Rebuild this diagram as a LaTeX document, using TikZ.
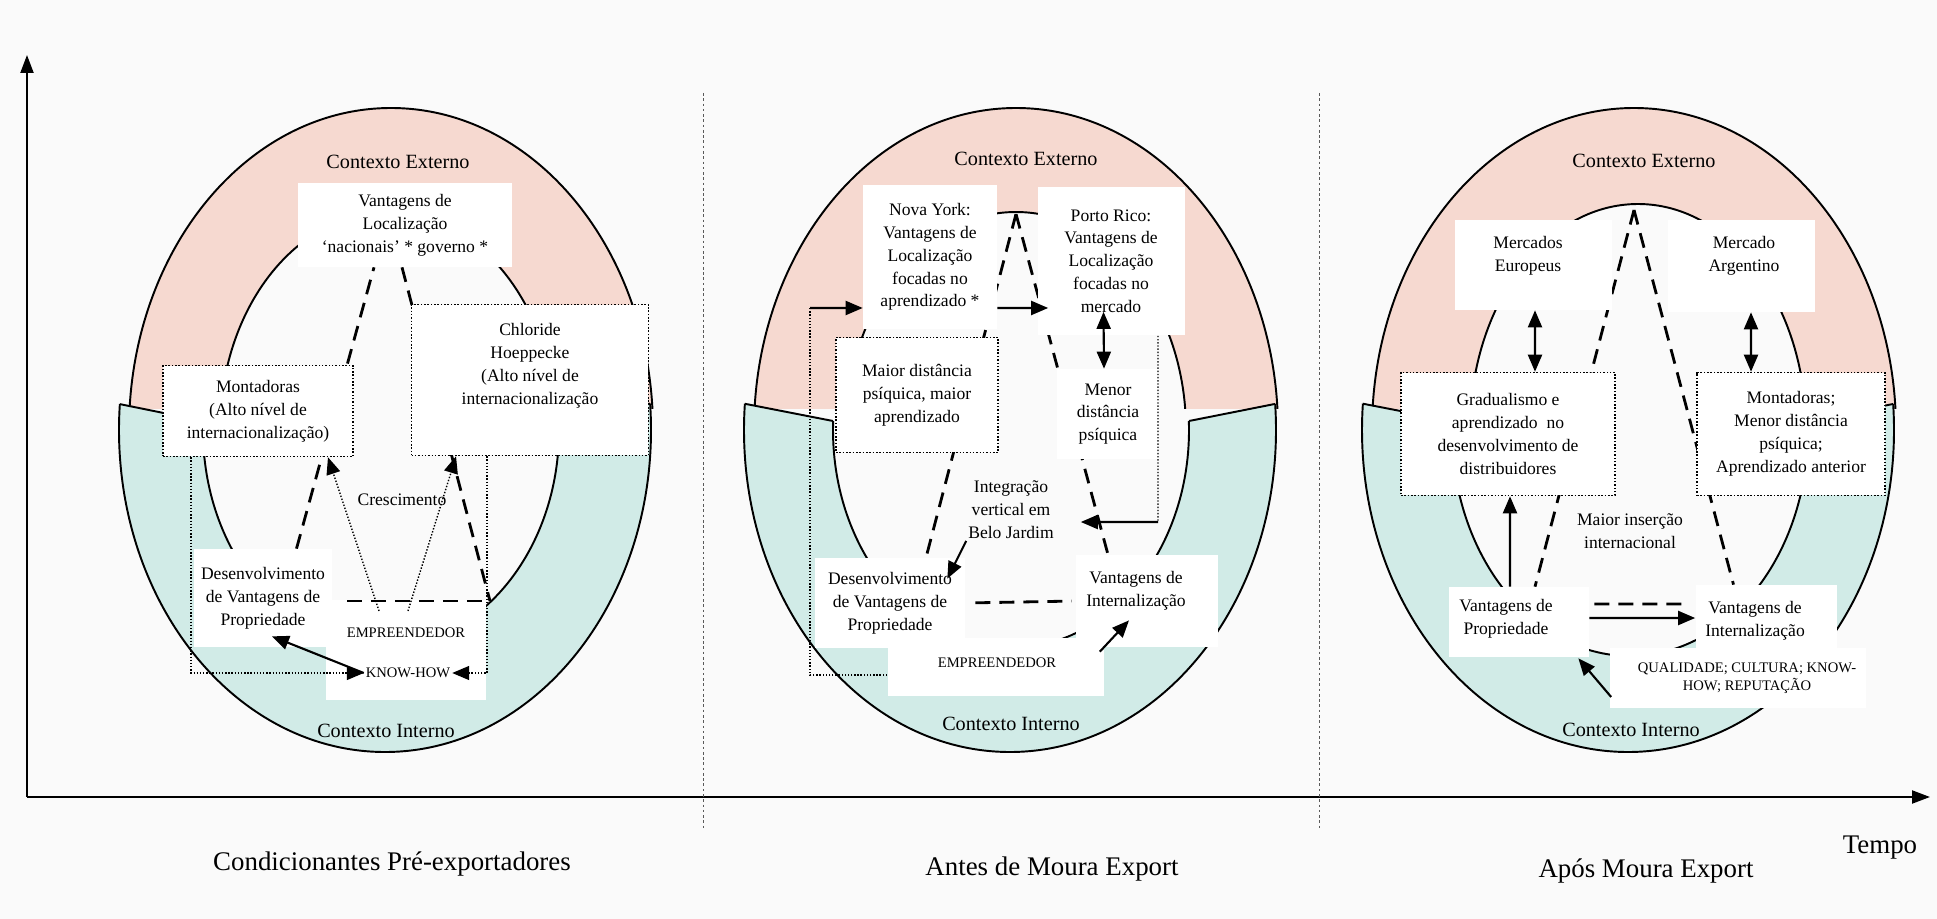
\documentclass[tikz,border=0pt]{standalone}
\usepackage{fontspec}
\setmainfont{Liberation Serif}
\usetikzlibrary{arrows.meta}

\definecolor{extpink}{RGB}{246,217,208}
\definecolor{intteal}{RGB}{209,235,231}
\definecolor{paper}{RGB}{250,250,250}

\pgfdeclarelayer{ringlayer}
\pgfdeclarelayer{linelayer}
\pgfsetlayers{ringlayer,linelayer,main}

\tikzset{
  wbox/.style={fill=white, inner sep=0pt, align=center, font=\fontsize{10}{13}\selectfont},
  dbox/.style={wbox, draw, densely dotted, line width=0.9pt},
  txt/.style={align=center, inner sep=1pt, font=\fontsize{10}{13}\selectfont},
  capstxt/.style={align=center, inner sep=1pt, font=\fontsize{8.3}{10.2}\selectfont},
  ctx/.style={inner sep=1pt, font=\fontsize{11.5}{14}\selectfont},
  phase/.style={inner sep=1pt, font=\fontsize{15.3}{18}\selectfont},
  ringline/.style={line width=1.1pt},
  dline/.style={line width=1.6pt, dash pattern=on 0.3cm off 0.18cm},
  dotl/.style={line width=0.8pt, densely dotted},
  headtip/.style={-{Triangle[length=0.34cm, width=0.28cm]}},
  arr/.style={headtip, line width=1.2pt},
  arr2/.style={{Triangle[length=0.34cm, width=0.28cm]}-{Triangle[length=0.34cm, width=0.28cm]}, line width=1.2pt},
  axisline/.style={-{Triangle[length=0.36cm, width=0.26cm]}, line width=1.2pt},
  sepline/.style={line width=0.5pt, gray!70!black, dash pattern=on 1.5pt off 1.5pt}
}

\begin{document}
\begin{tikzpicture}[x=0.02cm, y=-0.02cm]
  \useasboundingbox (0,0) rectangle (1937,919);

  % Rings: external context (upper half) and internal context (lower half)
  \begin{pgfonlayer}{ringlayer}
    \fill[paper] (0,0) rectangle (1937,919);
    \foreach \cx/\ix/\jx/\jrx/\iry in {385/381/388/168/218, 1010/1011/1016/170/218, 1628/1630/1638/168/226} {
      \begin{scope}
        \clip (\cx-310,0) rectangle (\cx+310,408);
        \fill[extpink, even odd rule] (\cx+6,430) ellipse [x radius=262, y radius=322]
          (\jx,430) ellipse [x radius=\jrx, y radius=\iry];
        \draw[ringline] (\cx+6,430) ellipse [x radius=262, y radius=322]
          (\jx,430) ellipse [x radius=\jrx, y radius=\iry];
      \end{scope}
      \begin{scope}
        \clip (\cx-310,395) -- (\ix-178,421) -- (\ix+178,421) -- (\cx+310,395)
          -- (\cx+310,800) -- (\cx-310,800) -- cycle;
        \fill[intteal, even odd rule] (\cx,430) ellipse [x radius=266, y radius=322]
          (\ix,430) ellipse [x radius=178, y radius=\iry];
        \draw[ringline] (\cx,430) ellipse [x radius=266, y radius=322]
          (\ix,430) ellipse [x radius=178, y radius=\iry];
      \end{scope}
      \begin{scope}
        \clip (\cx,430) ellipse [x radius=266, y radius=322];
        \draw[ringline] (\cx-310,395) -- (\ix-178,421) (\ix+178,421) -- (\cx+310,395);
      \end{scope}
    }
  \end{pgfonlayer}

  % Axes and period separators
  \coordinate (orig) at (27,797);
  \coordinate (ytip) at (27,55);
  \coordinate (xtip) at (1930,797);
  \draw[axisline] (orig) -- (ytip);
  \draw[axisline] (orig) -- (xtip);
  \draw[sepline] (703,93) -- (703,830);
  \draw[sepline] (1319,93) -- (1319,830);

  \node[phase] (ph1) at (392,864) {Condicionantes Pré-exportadores};
  \node[phase] (ph2) at (1052,869) {Antes de Moura Export};
  \node[phase] (ph3) at (1646,871) {Após Moura Export};
  \node[phase] (tempo) at (1880,848) {Tempo};

  % Panel 1: pre-export conditions
  \node[ctx] (p1ext) at (398,162) {Contexto Externo};
  \node[ctx] (p1int) at (386,731) {Contexto Interno};
  \node[wbox, minimum width=4.3cm, minimum height=1.68cm] (p1loc) at (405,225) {Vantagens de\\Localização\\`nacionais' * governo *};
  \node[dbox, minimum width=3.8cm, minimum height=1.82cm] (p1mont) at (258,411) {Montadoras\\(Alto nível de\\internacionalização)};
  \node[dbox, minimum width=4.74cm, minimum height=3.02cm] (p1chl) at (530,380) {};
  \node[txt] (p1chltxt) at (530,366) {Chloride\\Hoeppecke\\(Alto nível de\\internacionalização};
  \node[wbox, minimum width=2.78cm, minimum height=1.96cm] (p1des) at (263,598) {Desenvolvimento\\de Vantagens de\\Propriedade};
  \node[wbox, minimum width=3.22cm, minimum height=2.0cm] (p1empbox) at (406,650) {};
  \node[capstxt] (p1emp) at (406,633) {EMPREENDEDOR};
  \node[capstxt] (p1know) at (408,673) {KNOW-HOW};
  \node[txt] (p1cres) at (402,500) {Crescimento};
  \coordinate (p1dl) at (347,601);
  \coordinate (p1dr) at (490,601);

  \begin{pgfonlayer}{linelayer}
    \draw[dline] ([xshift=0.67cm]p1des.north) -- ([xshift=-0.62cm]p1loc.south);
    \draw[dline] ([xshift=-0.06cm]p1loc.south) -- (p1dr);
  \end{pgfonlayer}
  \draw[dline] (p1dl) -- (p1dr);
  \draw[dotl, headtip] ([xshift=-0.54cm, yshift=0.3cm]p1emp.north) -- ([xshift=1.4cm]p1mont.south);
  \draw[dotl, headtip] ([xshift=0.04cm, yshift=0.3cm]p1emp.north) -- ([xshift=-1.48cm]p1chl.south);
  \draw[dotl, headtip] ([xshift=-1.34cm]p1mont.south) |- (p1know.west);
  \draw[dotl, headtip] ([xshift=-0.86cm]p1chl.south) |- (p1know.east);
  \draw[arr] (p1know.west) -- ([xshift=0.18cm, yshift=0.22cm]p1des.south);

  % Panel 2: before Moura Export
  \node[ctx] (p2ext) at (1026,159) {Contexto Externo};
  \node[ctx] (p2int) at (1011,724) {Contexto Interno};
  \node[wbox, minimum width=2.68cm, minimum height=2.9cm] (p2ny) at (930,257) {Nova York:\\Vantagens de\\Localização\\focadas no\\aprendizado *};
  \node[wbox, minimum width=2.94cm, minimum height=2.98cm] (p2pr) at (1111,261) {Porto Rico:\\Vantagens de\\Localização\\focadas no\\mercado};
  \node[dbox, minimum width=3.24cm, minimum height=2.3cm] (p2mai) at (917,395) {Maior distância\\psíquica, maior\\aprendizado};
  \node[wbox, minimum width=2.04cm, minimum height=1.8cm] (p2men) at (1108,414) {Menor\\distância\\psíquica};
  \node[txt] (p2intg) at (1011,510) {Integração\\vertical em\\Belo Jardim};
  \node[wbox, minimum width=3.0cm, minimum height=1.8cm] (p2des) at (890,603) {Desenvolvimento\\de Vantagens de\\Propriedade};
  \node[wbox, minimum width=2.84cm, minimum height=1.84cm] (p2vin) at (1147,601) {};
  \node[txt] (p2vintxt) at (1136,591) {Vantagens de\\Internalização};
  \node[wbox, minimum width=4.34cm, minimum height=1.16cm] (p2emp) at (996,667) {};
  \node[capstxt] (p2emptxt) at (997,663) {EMPREENDEDOR};
  \coordinate (p2apex) at (1016,214);
  \coordinate (p2lc) at (810,308);
  \coordinate (p2rc) at (1158,522);

  \begin{pgfonlayer}{linelayer}
    \draw[dline] (p2apex) -- ([xshift=0.72cm]p2des.north);
    \draw[dline] (p2apex) -- ([xshift=-0.78cm]p2vin.north);
  \end{pgfonlayer}
  \draw[arr] ([yshift=-1.02cm]p2ny.east) -- ([xshift=0.22cm, yshift=-0.94cm]p2pr.west);
  \draw[dotl] ([yshift=-0.16cm]p2emp.west) -| (p2lc);
  \draw[arr] (p2lc) -- ([yshift=-1.02cm]p2ny.west);
  \draw[arr2] ([xshift=-0.15cm, yshift=0.48cm]p2pr.south) -- ([xshift=-0.08cm]p2men.north);
  \draw[dotl] ([xshift=0.94cm]p2pr.south) -- (p2rc);
  \draw[arr] (p2rc) -- ([xshift=0.5cm, yshift=-0.24cm]p2intg.east);
  \draw[arr] (p2intg.south west) -- ([xshift=-0.36cm, yshift=-0.42cm]p2des.north east);
  \draw[dline, shorten <=0.2cm, shorten >=0.08cm] (p2des.east) -- (p2vin.west);
  \draw[arr] ([xshift=-0.1cm, yshift=-0.28cm]p2emp.north east) -- ([xshift=-0.36cm, yshift=0.54cm]p2vin.south);

  % Panel 3: after Moura Export
  \node[ctx] (p3ext) at (1644,161) {Contexto Externo};
  \node[ctx] (p3int) at (1631,730) {Contexto Interno};
  \node[wbox, minimum width=3.14cm, minimum height=1.8cm] (p3eur) at (1533,265) {};
  \node[txt] (p3eurtxt) at (1528,256) {Mercados\\Europeus};
  \node[wbox, minimum width=2.94cm, minimum height=1.84cm] (p3arg) at (1741,266) {};
  \node[txt] (p3argtxt) at (1744,256) {Mercado\\Argentino};
  \node[dbox, minimum width=4.28cm, minimum height=2.46cm] (p3grad) at (1508,434) {Gradualismo e\\aprendizado\ \ no\\desenvolvimento de\\distribuidores};
  \node[dbox, minimum width=3.76cm, minimum height=2.46cm] (p3mon) at (1791,434) {Montadoras;\\Menor distância\\psíquica;\\Aprendizado anterior};
  \node[txt] (p3ins) at (1630,531) {Maior inserção\\internacional};
  \node[wbox, minimum width=2.8cm, minimum height=1.4cm] (p3pro) at (1519,622) {};
  \node[txt] (p3protxt) at (1506,619) {Vantagens de\\Propriedade};
  \node[wbox, minimum width=2.82cm, minimum height=1.32cm] (p3vin) at (1766,618) {};
  \node[txt] (p3vintxt) at (1755,621) {Vantagens de\\Internalização};
  \node[wbox, minimum width=5.14cm, minimum height=1.2cm] (p3qual) at (1738,678) {};
  \node[capstxt] (p3qualtxt) at (1747,678) {QUALIDADE; CULTURA; KNOW-\\HOW; REPUTAÇÃO};
  \coordinate (p3apex) at (1634,210);

  \begin{pgfonlayer}{linelayer}
    \draw[dline] (p3apex) -- ([xshift=0.32cm]p3pro.north);
    \draw[dline] (p3apex) -- ([xshift=-0.65cm]p3vin.north);
  \end{pgfonlayer}
  \draw[arr2] ([xshift=0.04cm]p3eur.south) -- ([xshift=0.54cm]p3grad.north);
  \draw[arr2] ([xshift=0.2cm]p3arg.south) -- ([xshift=-0.8cm]p3mon.north);
  \draw[arr] ([xshift=-0.18cm]p3pro.north) -- ([xshift=0.04cm]p3grad.south);
  \draw[dline, shorten <=0.1cm, shorten >=0.12cm] ([yshift=0.36cm]p3pro.east) -- ([yshift=0.28cm]p3vin.west);
  \draw[arr] ([yshift=0.08cm]p3pro.east) -- (p3vin.west);
  \draw[arr] ([xshift=0.04cm, yshift=-0.38cm]p3qual.west) -- ([xshift=-0.22cm, yshift=-0.02cm]p3pro.south east);
\end{tikzpicture}
\end{document}
